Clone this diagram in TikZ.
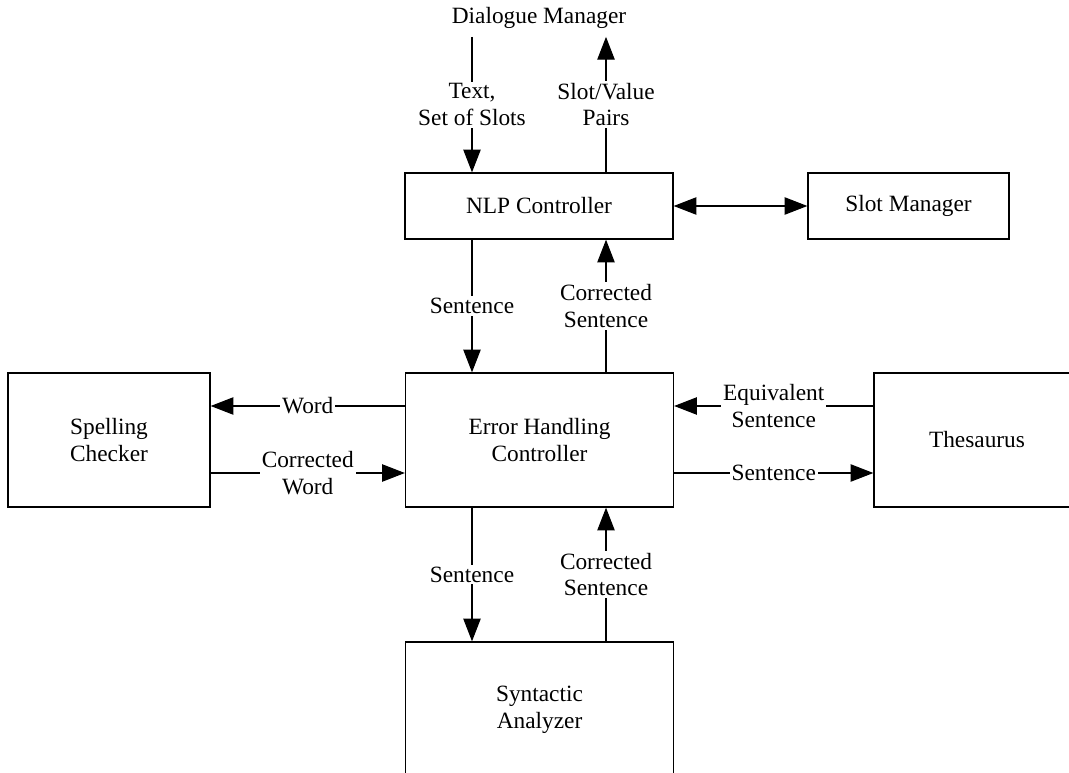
\documentclass[tikz,border=0pt]{standalone}
\usepackage{fontspec}
\setmainfont{Liberation Serif}
\usetikzlibrary{arrows.meta}
\begin{document}
\begin{tikzpicture}[x=0.75pt,y=-0.75pt,
  every node/.style={font=\fontsize{17.5}{20}\selectfont},
  box/.style={draw,line width=1pt,inner sep=0pt,align=center},
  lbl/.style={fill=white,inner sep=1.5pt,align=center},
  conn/.style={line width=0.8pt,-{Triangle[length=17pt,width=13pt]}},
  dconn/.style={line width=0.8pt,{Triangle[length=17pt,width=13pt]}-{Triangle[length=17pt,width=13pt]}}]
\useasboundingbox (0,0) rectangle (1069,773);
\clip (0,0) rectangle (1069,773);
% nodes
\node[inner xsep=2pt,inner ysep=6pt] (dm) at (539,18) {Dialogue Manager};
\node[box,minimum width=201pt,minimum height=49.5pt] (nlp) at (539,206) {NLP Controller};
\node[box,minimum width=150.75pt,minimum height=49.5pt] (slot) at (908.5,206) {Slot Manager};
\node[box,minimum width=201pt,minimum height=100.5pt] (ehc) at (539.5,440) {Error Handling\\Controller};
\node[box,minimum width=151.5pt,minimum height=100.5pt] (spell) at (109,440) {Spelling\\Checker};
\node[box,minimum width=154.5pt,minimum height=100.5pt] (thes) at (977,440) {Thesaurus};
\node[box,minimum width=201pt,minimum height=102pt] (syn) at (539.5,710) {Syntactic\\Analyzer};
% guide coordinates
\coordinate (L) at (472,0);
\coordinate (R) at (606,0);
\coordinate (U) at (0,406);
\coordinate (D) at (0,473);
% connectors
\draw[conn] (dm.south -| L) -- (nlp.north -| L) node[midway,lbl]{Text,\\Set of Slots};
\draw[conn] (nlp.north -| R) -- (dm.south -| R) node[midway,lbl]{Slot/Value\\Pairs};
\draw[dconn] (nlp.east) -- (slot.west);
\draw[conn] (nlp.south -| L) -- (ehc.north -| L) node[midway,lbl]{Sentence};
\draw[conn] (ehc.north -| R) -- (nlp.south -| R) node[midway,lbl]{Corrected\\Sentence};
\draw[conn] (ehc.west |- U) -- (spell.east |- U) node[midway,lbl]{Word};
\draw[conn] (spell.east |- D) -- (ehc.west |- D) node[midway,lbl]{Corrected\\Word};
\draw[conn] (thes.west |- U) -- (ehc.east |- U) node[midway,lbl]{Equivalent\\Sentence};
\draw[conn] (ehc.east |- D) -- (thes.west |- D) node[midway,lbl]{Sentence};
\draw[conn] (ehc.south -| L) -- (syn.north -| L) node[midway,lbl]{Sentence};
\draw[conn] (syn.north -| R) -- (ehc.south -| R) node[midway,lbl]{Corrected\\Sentence};
\end{tikzpicture}
\end{document}
